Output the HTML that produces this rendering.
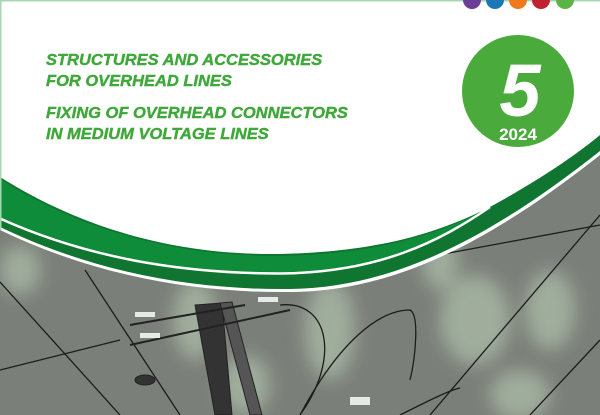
<!DOCTYPE html>
<html><head><meta charset="utf-8"><style>
html,body{margin:0;padding:0;}
body{width:600px;height:415px;overflow:hidden;position:relative;background:#fff;font-family:"Liberation Sans",sans-serif;}
svg{position:absolute;left:0;top:0;}
.t{position:absolute;left:46px;color:#3fa83a;font-weight:bold;font-style:italic;font-size:16px;line-height:16px;white-space:nowrap;transform:scaleX(1.03);transform-origin:left;-webkit-text-stroke:0.4px #3fa83a;}
</style></head><body>
<svg width="600" height="415" viewBox="0 0 600 415">
<defs>
<filter id="bl" x="-50%" y="-50%" width="200%" height="200%"><feGaussianBlur stdDeviation="9"/></filter>
</defs>
<rect width="600" height="415" fill="#7b7f79"/>
<g filter="url(#bl)" fill="#b9cdb6" opacity="0.6">
<ellipse cx="195" cy="320" rx="22" ry="40"/>
<ellipse cx="330" cy="330" rx="25" ry="50"/>
<ellipse cx="440" cy="260" rx="18" ry="30"/>
<ellipse cx="475" cy="320" rx="35" ry="45"/>
<ellipse cx="550" cy="310" rx="25" ry="40"/>
<ellipse cx="245" cy="385" rx="25" ry="30"/>
<ellipse cx="520" cy="395" rx="30" ry="25"/>
<ellipse cx="20" cy="270" rx="20" ry="25"/>
</g>
<g stroke="#1c1c1c" fill="none" stroke-width="1.3">
<line x1="0" y1="282" x2="120" y2="415"/>
<line x1="85" y1="270" x2="180" y2="415"/>
<line x1="0" y1="370" x2="120" y2="340"/>
<line x1="330" y1="275" x2="600" y2="225"/>
<line x1="600" y1="215" x2="430" y2="415"/>
<line x1="600" y1="340" x2="530" y2="415"/>
<path d="M280 305 C330 300 340 360 300 415"/>
<path d="M300 415 C340 340 380 310 410 310 C420 315 415 360 410 380"/>
<path d="M400 415 C430 400 450 390 460 388"/>
</g>
<g fill="#333" stroke="#222">
<polygon points="195,305 222,303 232,415 215,415"/>
<polygon points="220,303 232,302 262,415 250,415" fill="#555"/>
<line x1="130" y1="325" x2="245" y2="305" stroke-width="2"/>
<line x1="130" y1="345" x2="290" y2="310" stroke-width="2"/>
<ellipse cx="145" cy="380" rx="10" ry="5"/>
</g>
<g fill="#e6ece4">
<rect x="135" y="312" width="20" height="5"/><rect x="140" y="333" width="20" height="5"/>
<rect x="258" y="297" width="20" height="5"/><rect x="350" y="397" width="20" height="8"/>
</g>
<path d="M0,0 L600,0 L600,155 C500,234 400,292 290,292 C200,293 100,278 0,230 Z" fill="#fff"/>
<path d="M0,0 L600,0 L600,151 C500,230 400,288 290,289 C200,290 100,275 0,227 Z" fill="#0f7530"/>
<path d="M0,179 C100,242 200,256 280,256 C380,254 440,234 490,207 C440,240 380,271 280,272 C200,272 100,262 0,217 Z" fill="#0f8c3a"/>
<path d="M0,218.5 C100,263.5 200,273.5 280,273.5 C380,272.5 440,241 490,207" fill="none" stroke="#fff" stroke-width="2.5"/>
<path d="M0,0 L0,177 C100,240 200,255 280,254 C380,252 440,232 490,207 C530,185 570,160 600,135 L600,0 Z" fill="#fff"/>
<rect x="0" y="0" width="600" height="1.5" fill="#a9d6b0"/>
<rect x="0" y="0" width="1.5" height="230" fill="#a9d6b0"/>
<circle cx="472" cy="0" r="9" fill="#6b3f98"/>
<circle cx="495" cy="0" r="9" fill="#1c78b4"/>
<circle cx="518" cy="0" r="9" fill="#ee7a1d"/>
<circle cx="541" cy="0" r="9" fill="#c0202f"/>
<circle cx="565" cy="0" r="9" fill="#5bb446"/>
<circle cx="518" cy="91" r="56" fill="#4aaa3c"/>
<text x="520" y="116" text-anchor="middle" font-family="Liberation Sans" font-weight="bold" font-style="italic" font-size="74" fill="#fff">5</text>
<text x="518" y="140" text-anchor="middle" font-family="Liberation Sans" font-weight="bold" font-size="17" fill="#fff">2024</text>
</svg>
<div class="t" style="top:53px">STRUCTURES AND ACCESSORIES</div>
<div class="t" style="top:74px">FOR OVERHEAD LINES</div>
<div class="t" style="top:106px">FIXING OF OVERHEAD CONNECTORS</div>
<div class="t" style="top:127px">IN MEDIUM VOLTAGE LINES</div>
</body></html>
